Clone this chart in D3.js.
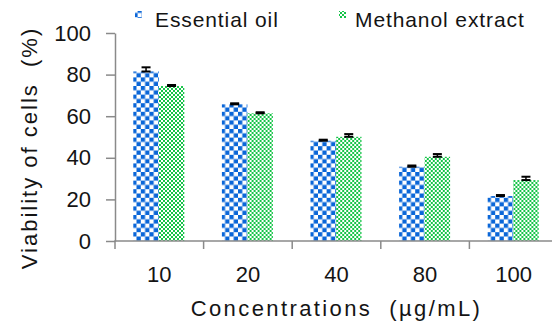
<!DOCTYPE html>
<html>
<head>
<meta charset="utf-8">
<script src="https://cdn.jsdelivr.net/npm/d3@7"></script>
<style>
  html, body { margin: 0; padding: 0; background: #fff; }
  svg { display: block; }
  text { font-family: "Liberation Sans", Arial, sans-serif; fill: #141414; }
</style>
</head>
<body>
<svg id="chart" width="552" height="329"></svg>
<script>
// Cell viability at each concentration
const categories = ["10", "20", "40", "80", "100"];
const seriesNames = ["Essential oil", "Methanol extract"];
const essentialOil = [81.5, 65.7, 48.2, 35.7, 21.6];
const essentialOilErr = [2.0, 0.5, 0.5, 0.6, 0.5];
const methanolExtract = [74.5, 61.4, 50.1, 40.5, 29.3];
const methanolExtractErr = [0.5, 0.5, 1.3, 1.3, 1.6];
const yTicks = [0, 20, 40, 60, 80, 100];

const svg = d3.select("#chart");
const plot = { left: 115, right: 558, top: 33, bottom: 241 };

// Checkerboard fills for the two series
const defs = svg.append("defs");
const blueP = defs.append("pattern").attr("id", "pBlue")
  .attr("patternUnits", "userSpaceOnUse").attr("width", 8.6).attr("height", 8.6);
blueP.append("rect").attr("width", 8.6).attr("height", 8.6).attr("fill", "#fff");
blueP.append("rect").attr("width", 4.3).attr("height", 4.3).attr("fill", "#0a66d8");
blueP.append("rect").attr("x", 4.3).attr("y", 4.3).attr("width", 4.3).attr("height", 4.3).attr("fill", "#0a66d8");

const greenP = defs.append("pattern").attr("id", "pGreen")
  .attr("patternUnits", "userSpaceOnUse").attr("width", 4).attr("height", 4);
greenP.append("rect").attr("width", 4).attr("height", 4).attr("fill", "#fff");
greenP.append("rect").attr("width", 2).attr("height", 2).attr("fill", "#16c448");
greenP.append("rect").attr("x", 2).attr("y", 2).attr("width", 2).attr("height", 2).attr("fill", "#16c448");

const fills = ["url(#pBlue)", "url(#pGreen)"];

const x0 = d3.scaleBand().domain(categories).range([plot.left, plot.right]).padding(0);
const x1 = d3.scaleBand().domain(seriesNames).range([18.3, 18.3 + 51]).padding(0);
const y = d3.scaleLinear().domain([0, 100]).range([plot.bottom, plot.top]);

const rows = categories.map((c, i) => ({
  cat: c,
  vals: [
    { s: seriesNames[0], v: essentialOil[i], e: essentialOilErr[i], k: 0 },
    { s: seriesNames[1], v: methanolExtract[i], e: methanolExtractErr[i], k: 1 }
  ]
}));

// Bars
const groups = svg.append("g").selectAll("g").data(rows).join("g")
  .attr("transform", d => `translate(${x0(d.cat)},0)`);
groups.selectAll("rect").data(d => d.vals).join("rect")
  .attr("x", d => x1(d.s))
  .attr("y", d => y(d.v))
  .attr("width", x1.bandwidth())
  .attr("height", d => y(0) - y(d.v))
  .attr("fill", d => fills[d.k]);

// Error bars (upper)
const capW = 9;
groups.selectAll("g.err").data(d => d.vals).join("g").attr("class", "err")
  .each(function(d) {
    const g = d3.select(this);
    const cx = x1(d.s) + x1.bandwidth() / 2;
    const yt = y(d.v + d.e), yb = y(d.v);
    g.append("line").attr("x1", cx).attr("x2", cx).attr("y1", yt).attr("y2", yb)
      .attr("stroke", "#000").attr("stroke-width", 1.5);
    g.append("line").attr("x1", cx - capW / 2).attr("x2", cx + capW / 2).attr("y1", yt).attr("y2", yt)
      .attr("stroke", "#000").attr("stroke-width", 2);
    g.append("line").attr("x1", cx - capW / 2).attr("x2", cx + capW / 2).attr("y1", yb).attr("y2", yb)
      .attr("stroke", "#000").attr("stroke-width", 2);
  });

// Y axis
const yAxis = svg.append("g").attr("transform", `translate(${plot.left},0)`)
  .call(d3.axisLeft(y).tickValues(yTicks).tickSize(9).tickPadding(15).tickSizeOuter(0));
yAxis.select(".domain").attr("stroke", "#8a8a8a").attr("stroke-width", 1.5);
yAxis.selectAll(".tick line").attr("stroke", "#8a8a8a").attr("stroke-width", 1.5);
yAxis.selectAll(".tick text").style("font-size", "22px").attr("fill", "#141414")
  .style("font-family", '"Liberation Sans", Arial, sans-serif');

// X axis: baseline with ticks at category boundaries
const xAxis = svg.append("g");
xAxis.append("line").attr("x1", plot.left - 0.75).attr("x2", plot.right)
  .attr("y1", y(0)).attr("y2", y(0)).attr("stroke", "#8a8a8a").attr("stroke-width", 1.5);
const bounds = categories.map(c => x0(c)).concat([plot.right]);
xAxis.selectAll("line.tk").data(bounds).join("line").attr("class", "tk")
  .attr("x1", d => d).attr("x2", d => d)
  .attr("y1", y(0)).attr("y2", y(0) + 8)
  .attr("stroke", "#8a8a8a").attr("stroke-width", 1.5);
xAxis.selectAll("text").data(categories).join("text")
  .attr("x", d => x0(d) + x0.bandwidth() / 2)
  .attr("y", 282)
  .attr("text-anchor", "middle")
  .style("font-size", "22px")
  .text(d => d);

// Axis titles
svg.append("text")
  .attr("x", (plot.left + plot.right) / 2)
  .attr("y", 316)
  .attr("text-anchor", "middle")
  .style("font-size", "22px")
  .style("letter-spacing", "2.4px")
  .style("white-space", "pre")
  .text("Concentrations  (µg/mL)");

svg.append("text")
  .attr("transform", `translate(37,148) rotate(-90)`)
  .attr("text-anchor", "middle")
  .style("font-size", "22px")
  .style("letter-spacing", "2px")
  .style("white-space", "pre")
  .text("Viability of cells  (%)");

// Legend
const legend = [
  { name: seriesNames[0], mx: 135, tx: 155 },
  { name: seriesNames[1], mx: 339, tx: 355 }
];
const lg = svg.append("g");
lg.selectAll("rect").data(legend).join("rect")
  .attr("x", d => d.mx).attr("y", 11).attr("width", 7).attr("height", 7)
  .attr("fill", (d, i) => fills[i]);
lg.selectAll("text").data(legend).join("text")
  .attr("x", d => d.tx).attr("y", 27)
  .style("font-size", "21px")
  .style("letter-spacing", "0.9px")
  .text(d => d.name);
</script>
</body>
</html>
